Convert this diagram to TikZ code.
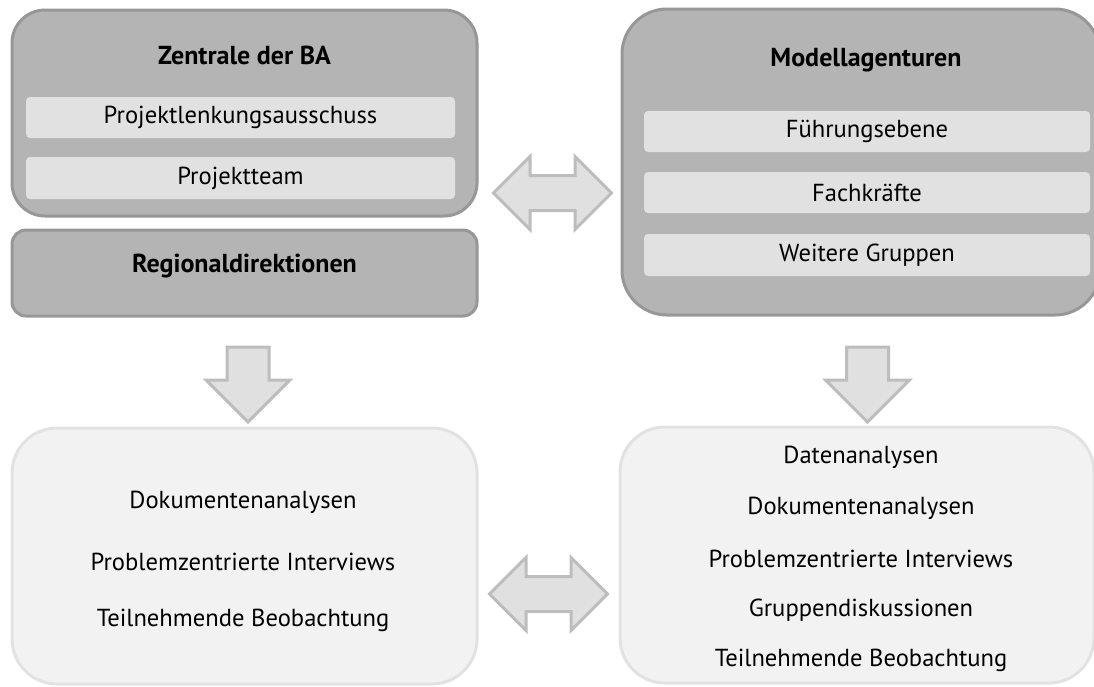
\documentclass[tikz,border=0pt]{standalone}
\usepackage{xcolor}
\usepackage{fontspec}
\setmainfont{PT Sans}
\usepackage{tikz}
\usetikzlibrary{shapes.arrows, positioning}

\definecolor{boxdark}{HTML}{B4B4B4}
\definecolor{boxdarkline}{HTML}{979797}
\definecolor{barfill}{HTML}{E1E1E1}
\definecolor{boxlight}{HTML}{F2F2F2}
\definecolor{boxlightline}{HTML}{E2E2E2}
\definecolor{arrfill}{HTML}{E0E0E0}
\definecolor{arrline}{HTML}{BDBDBD}

\tikzset{
  darkbox/.style={draw=boxdarkline, fill=boxdark, line width=3pt, inner sep=0pt},
  lightbox/.style={draw=boxlightline, fill=boxlight, line width=3pt, inner sep=0pt},
  bar/.style={fill=barfill, rounded corners=4pt, inner sep=0pt},
  titel/.style={font=\fontsize{26}{30}\selectfont\bfseries},
  dblarrow/.style={double arrow, draw=arrline, fill=arrfill, line width=3pt,
    inner xsep=0pt, inner ysep=16pt, minimum height=118pt, double arrow head extend=19pt},
  downarrow/.style={single arrow, draw=arrline, fill=arrfill, line width=3pt,
    inner xsep=0pt, inner ysep=19.5pt, minimum height=75pt, single arrow head extend=21pt, rotate=-90},
  every node/.style={font=\fontsize{24.6}{29}\selectfont}
}

\begin{document}
\begin{tikzpicture}[x=1pt, y=-1pt]
\clip (0,0) rectangle (1094,686);

\node[darkbox, rounded corners=33pt, minimum width=465pt, minimum height=206pt] (zentrale) at (244.5,113) {};
\node[titel] (zentraletitel) at (244.5,55) {Zentrale der BA};
\node[bar, minimum width=429pt, minimum height=41pt] (plenk) at (240.5,117.5) {Projektlenkungsausschuss};
\node[bar, minimum width=429pt, minimum height=42pt] (pteam) at (240.5,178) {Projektteam};

\node[darkbox, rounded corners=14pt, minimum width=465pt, minimum height=86pt] (regdir) at (244.5,273) {};
\node[titel] (regdirtitel) at (244.5,266) {Regionaldirektionen};

\node[darkbox, rounded corners=45pt, minimum width=478pt, minimum height=306pt] (modell) at (861,162) {};
\node[titel] (modelltitel) at (866,60) {Modellagenturen};
\node[bar, minimum width=446pt, minimum height=41pt] (fuehrung) at (867,131.5) {Führungsebene};
\node[bar, minimum width=446pt, minimum height=41pt] (fachkr) at (867,192.5) {Fachkräfte};
\node[bar, minimum width=446pt, minimum height=42pt] (weitere) at (867,255) {Weitere Gruppen};

\node[dblarrow] (austauschoben) at (552.5,193) {};

\node[downarrow] (pfeillinks) at (248,374) {};
\node[downarrow] (pfeilrechts) at (867.5,374) {};

\node[lightbox, rounded corners=45pt, minimum width=465pt, minimum height=256pt] (methlinks) at (244.5,556) {};
\node (ml1) at (243,502) {Dokumentenanalysen};
\node (ml2) at (243,562) {Problemzentrierte Interviews};
\node (ml3) at (243,620) {Teilnehmende Beobachtung};

\node[lightbox, rounded corners=45pt, minimum width=474pt, minimum height=256pt] (methrechts) at (857,555) {};
\node (mr1) at (861,457) {Datenanalysen};
\node (mr2) at (861,508) {Dokumentenanalysen};
\node (mr3) at (861,559) {Problemzentrierte Interviews};
\node (mr4) at (861,610) {Gruppendiskussionen};
\node (mr5) at (861,660) {Teilnehmende Beobachtung};

\node[dblarrow] (austauschunten) at (548.5,594) {};
\end{tikzpicture}
\end{document}
